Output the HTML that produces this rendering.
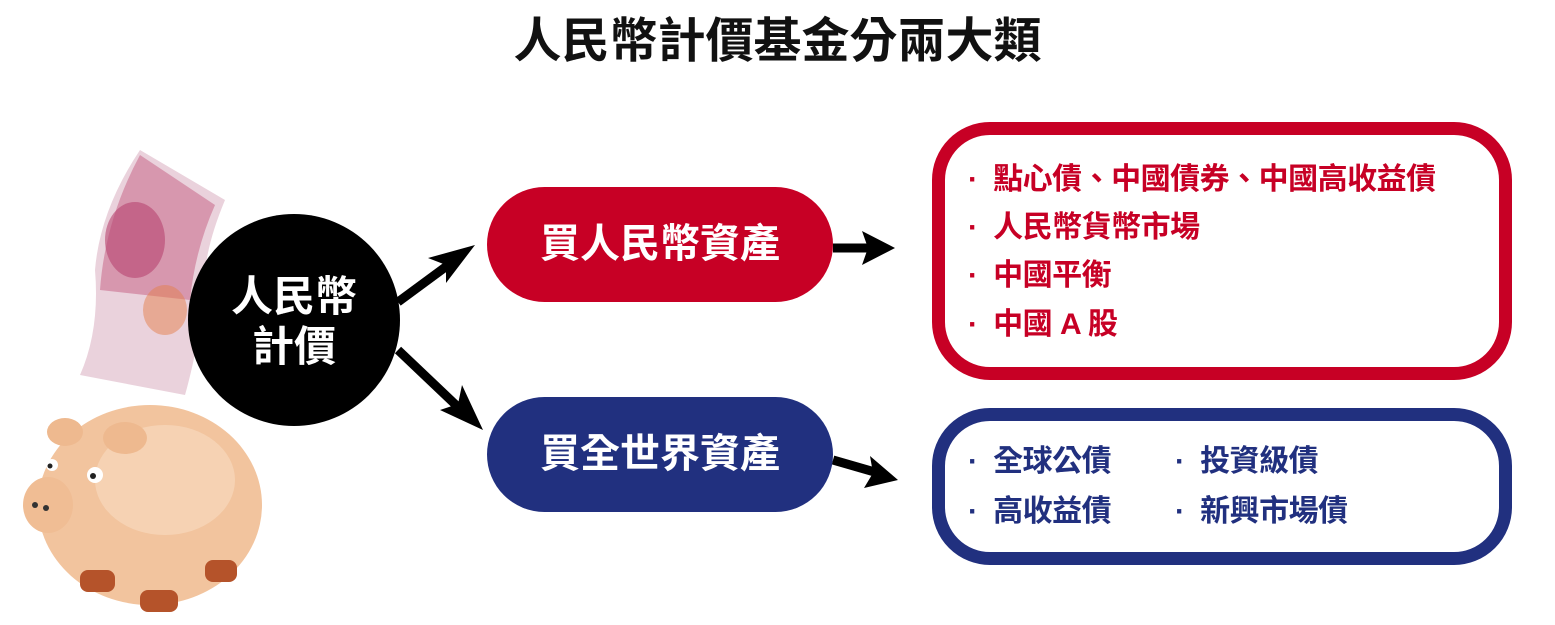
<!DOCTYPE html>
<html><head><meta charset="utf-8"><style>
body{margin:0;width:1555px;height:625px;background:#fff;position:relative;overflow:hidden;font-family:"Liberation Sans","Noto Sans CJK TC",sans-serif;}
.a{position:absolute;white-space:nowrap;}
.title{left:0;width:1555px;text-align:center;top:14px;font-size:48px;font-weight:bold;color:#111;line-height:56px;}
.pill{position:absolute;left:487px;width:346px;height:115px;border-radius:58px;color:#fff;font-size:40px;font-weight:bold;text-align:center;line-height:115px;}
.box{position:absolute;left:932px;width:580px;box-sizing:border-box;border:13px solid;border-radius:58px;background:#fff;}
.it{position:absolute;font-size:30px;font-weight:bold;line-height:36px;letter-spacing:-0.5px;}
.red{color:#c70025}.blue{color:#21307f}
</style></head><body>
<div class="a title">人民幣計價基金分兩大類</div>
<svg class="a" style="left:0;top:0" width="1555" height="625">
 <g>
  <path d="M140 150 L225 200 Q200 260 205 300 Q195 360 185 395 L80 375 Q100 330 95 270 Q100 210 140 150 Z" fill="#ead2dc"/>
  <path d="M140 155 L215 205 Q195 250 190 300 L100 290 Q105 220 140 155Z" fill="#c9708f" opacity=".6"/>
  <ellipse cx="135" cy="240" rx="30" ry="38" fill="#b8446f" opacity=".6"/>
  <ellipse cx="165" cy="310" rx="22" ry="25" fill="#e4804c" opacity=".5"/>
 </g>
 <ellipse cx="150" cy="505" rx="112" ry="100" fill="#f2c49e"/>
 <ellipse cx="165" cy="480" rx="70" ry="55" fill="#f8dcc2" opacity=".6"/>
 <ellipse cx="48" cy="505" rx="25" ry="28" fill="#f0bd94"/>
 <circle cx="35" cy="505" r="3" fill="#333"/><circle cx="46" cy="508" r="3" fill="#333"/>
 <circle cx="95" cy="475" r="8" fill="#fff"/><circle cx="93" cy="476" r="3" fill="#222"/>
 <circle cx="52" cy="465" r="6" fill="#fff"/><circle cx="50" cy="466" r="2.5" fill="#222"/>
 <ellipse cx="65" cy="432" rx="18" ry="14" fill="#eeb98f"/>
 <ellipse cx="125" cy="438" rx="22" ry="16" fill="#eeb98f"/>
 <rect x="80" y="570" width="35" height="22" rx="8" fill="#b5532a"/>
 <rect x="140" y="590" width="38" height="22" rx="8" fill="#b5532a"/>
 <rect x="205" y="560" width="32" height="22" rx="8" fill="#b5532a"/>
 <circle cx="294" cy="320" r="106" fill="#000"/>
 <g stroke="#000" stroke-width="9" fill="none">
  <line x1="398" y1="302" x2="455" y2="260"/>
  <line x1="398" y1="350" x2="458" y2="407"/>
  <line x1="833" y1="248" x2="880" y2="248"/>
  <line x1="833" y1="460" x2="885" y2="475"/>
 </g>
 <g fill="#000">
  <polygon points="475,245 428,258 446,265 446,283"/>
  <polygon points="483,430 462,385 458,404 440,410"/>
  <polygon points="895,248 862,231 868,248 862,265"/>
  <polygon points="898,480 870,456 873,473 864,488"/>
 </g>
</svg>
<div class="a" style="left:188px;top:272px;width:212px;text-align:center;color:#fff;font-size:42px;font-weight:bold;line-height:50px;">人民幣<br>計價</div>
<div class="pill" style="top:187px;background:#c70025">買人民幣資產</div>
<div class="pill" style="top:397px;background:#21307f">買全世界資產</div>
<div class="box" style="top:122px;height:258px;border-color:#c70025"></div>
<div class="box" style="top:408px;height:157px;border-color:#21307f"></div>
<div class="it red" style="left:968px;top:162px">·&nbsp; 點心債、中國債券、中國高收益債</div>
<div class="it red" style="left:968px;top:210px">·&nbsp; 人民幣貨幣市場</div>
<div class="it red" style="left:968px;top:258px">·&nbsp; 中國平衡</div>
<div class="it red" style="left:968px;top:307px">·&nbsp; 中國 A 股</div>
<div class="it blue" style="left:968px;top:444px">·&nbsp; 全球公債</div>
<div class="it blue" style="left:968px;top:494px">·&nbsp; 高收益債</div>
<div class="it blue" style="left:1175px;top:444px">·&nbsp; 投資級債</div>
<div class="it blue" style="left:1175px;top:494px">·&nbsp; 新興市場債</div>
</body></html>
